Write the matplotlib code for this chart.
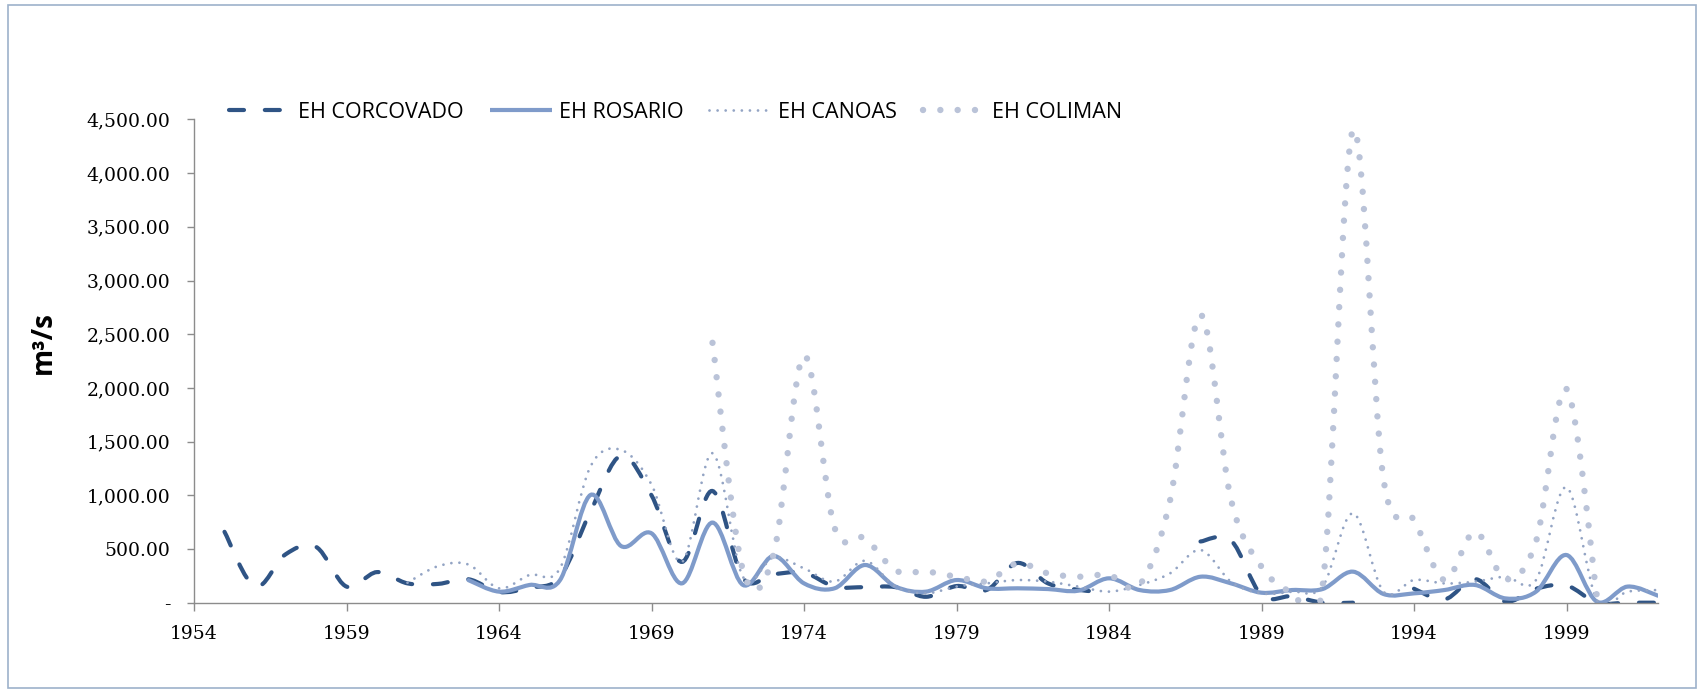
import numpy as np
import matplotlib
matplotlib.use("Agg")
import matplotlib.pyplot as plt
from matplotlib.path import Path
from matplotlib.patches import PathPatch, Rectangle
from matplotlib.lines import Line2D

nan = np.nan

# annual mean flows (m3/s)
corcovado_start = 1955
corcovado = [660, 150, 450, 520, 150, 285, 180, 175, 218, 100,
             140, 240, 850, 1370, 1000, 380, 1040, 230, 265, 280,
             150, 145, 145, 55, 155, 120, 370, 180, 120, 95,
             nan, nan, 570, 580, 70, 60, 0, 0, nan, 130,
             30, 220, 10, 130, 160, 0, 0, 0]

rosario_start = 1963
rosario = [210, 103, 165, 210, 1003, 528, 646, 180, 746, 165,
           435, 180, 134, 351, 150, 103, 211, 134, 134, 127,
           112, 227, 118, 118, 242, 180, 93, 118, 127, 289,
           81, 87, 118, 165, 40, 103, 444, 9, 150, 65]

canoas_start = 1961
canoas = [186, 340, 355, 134, 258, 320, 1268, 1423, 1100, 380,
          1392, 240, 420, 320, 196, 390, 150, 87, 150, 180,
          211, 196, 150, 103, 165, 273, 491, 196, 87, 103,
          150, 833, 103, 211, 180, 196, 242, 211, 1075, 25,
          103, 118]

coliman_start = 1971
coliman = [2420, 300, 450, 2300, 700, 600, 300, 290, 242, 200,
           367, 273, 242, 258, 165, 950, 2680, 960, 335, 100,
           150, 4400, 1150, 770, 211, 660, 220, 570, 1990, 50]

series_names = ["EH CORCOVADO", "EH ROSARIO", "EH CANOAS", "EH COLIMAN"]
year_ticks = list(range(1954, 2000, 5))
value_ticks = list(range(0, 4501, 500))


def smooth_path(x, y):
    # Excel style smoothed line: cubic bezier through each point
    pts = np.column_stack([x, y])
    n = len(pts)
    verts = [pts[0]]
    codes = [Path.MOVETO]
    for i in range(n - 1):
        p0 = pts[max(i - 1, 0)]
        p1 = pts[i]
        p2 = pts[i + 1]
        p3 = pts[min(i + 2, n - 1)]
        verts += [p1 + (p2 - p0) / 6, p2 - (p3 - p1) / 6, p2]
        codes += [Path.CURVE4] * 3
    return Path(verts, codes)


def draw_series(ax, start, values, **style):
    years = np.arange(start, start + len(values))
    vals = np.array(values, dtype=float)
    ok = ~np.isnan(vals)
    # split into runs at missing years
    idx = np.where(ok)[0]
    runs = np.split(idx, np.where(np.diff(idx) > 1)[0] + 1)
    for run in runs:
        if len(run) < 2:
            continue
        patch = PathPatch(smooth_path(years[run], vals[run]), fill=False, **style)
        ax.add_patch(patch)


styles = [
    dict(edgecolor="#2f5485", linewidth=3.0, linestyle=(0, (3.6, 5.0)), capstyle="round"),
    dict(edgecolor="#7f9bca", linewidth=3.0, linestyle="-", capstyle="round"),
    dict(edgecolor="#93a4c4", linewidth=2.0, linestyle=(0, (0.01, 2.9)), capstyle="round"),
    dict(edgecolor="#bac3d8", linewidth=4.6, linestyle=(0, (0.01, 2.7)), capstyle="round"),
]

W, H = 1701, 691
fig = plt.figure(figsize=(W / 100, H / 100), dpi=100)
ax = fig.add_axes([194 / W, 1 - 602.7 / H, (1658 - 194) / W, (602.7 - 119.4) / H])

for (start, values), style in zip(
    [(corcovado_start, corcovado), (rosario_start, rosario),
     (canoas_start, canoas), (coliman_start, coliman)], styles):
    draw_series(ax, start, values, **style)

ax.set_xlim(1954, 2002)
ax.set_ylim(0, 4500)
ax.set_xticks(year_ticks)
ax.set_xticklabels([str(y) for y in year_ticks])
ax.set_yticks(value_ticks)
ax.set_yticklabels(["-" if v == 0 else f"{v:,.2f}" for v in value_ticks])

for side in ["top", "right"]:
    ax.spines[side].set_visible(False)
for side in ["left", "bottom"]:
    ax.spines[side].set_color("#8c8c8c")
    ax.spines[side].set_linewidth(1.0)

ax.tick_params(axis="y", direction="out", length=5, width=1.0, color="#8c8c8c", pad=12,
               labelsize=13.5, labelcolor="black")
ax.tick_params(axis="x", direction="out", length=6, width=1.0, color="#8c8c8c", pad=10,
               labelsize=13.5, labelcolor="black")
for lbl in ax.get_xticklabels() + ax.get_yticklabels():
    lbl.set_family("DejaVu Serif")

fig.text(43 / W, 1 - 343 / H, "m³/s", rotation=90, ha="center", va="center",
         fontsize=20, fontweight="bold", family="Open Sans")

handles = []
for style in styles:
    handles.append(Line2D([], [], color=style["edgecolor"], linewidth=style["linewidth"],
                          linestyle=style["linestyle"], dash_capstyle="round",
                          solid_capstyle="butt"))
leg = fig.legend(handles, series_names, loc="center left", ncol=4, frameon=False,
                 bbox_to_anchor=(210 / W, 1 - 112 / H), handlelength=2.9,
                 handletextpad=0.3, columnspacing=1.2,
                 prop={"family": "Open Sans", "size": 15.5})

fig.patches.append(Rectangle((8 / W, 1 - 688 / H), (1696 - 8) / W, (688 - 5) / H,
                             transform=fig.transFigure, fill=False,
                             edgecolor="#9db2cb", linewidth=1.2))

fig.savefig("out.png", dpi=100, facecolor="white")
